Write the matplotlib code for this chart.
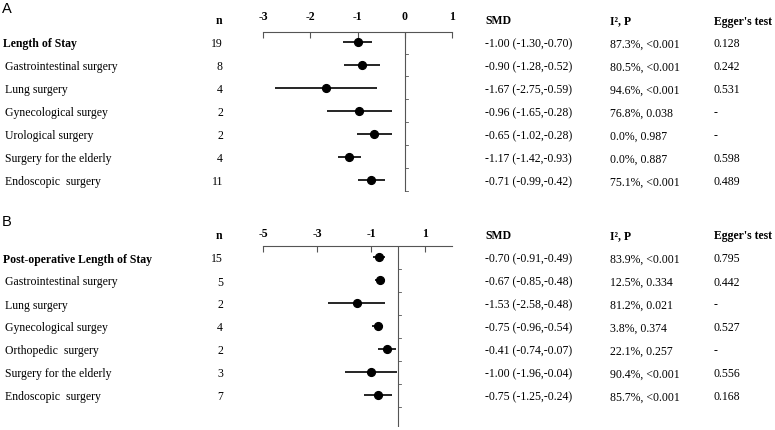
import matplotlib
matplotlib.use("Agg")
import matplotlib.pyplot as plt
from matplotlib import transforms

plt.rcParams['font.family'] = ['Liberation Serif', 'DejaVu Serif']

# panel A data
a_labels = ["Length of Stay", "Gastrointestinal surgery", "Lung surgery", "Gynecological surgey",
            "Urological surgery", "Surgery for the elderly", "Endoscopic  surgery"]
a_n = ["19", "8", "4", "2", "2", "4", "11"]
a_smd = [-1.00, -0.90, -1.67, -0.96, -0.65, -1.17, -0.71]
a_lo = [-1.30, -1.28, -2.75, -1.65, -1.02, -1.42, -0.99]
a_hi = [-0.70, -0.52, -0.59, -0.28, -0.28, -0.93, -0.42]
a_i2 = ["87.3%, <0.001", "80.5%, <0.001", "94.6%, <0.001", "76.8%, 0.038",
        "0.0%, 0.987", "0.0%, 0.887", "75.1%, <0.001"]
a_egger = ["0.128", "0.242", "0.531", "-", "-", "0.598", "0.489"]
a_ticks = [-3, -2, -1, 0, 1]

# panel B data
b_labels = ["Post-operative Length of Stay", "Gastrointestinal surgery", "Lung surgery",
            "Gynecological surgey", "Orthopedic  surgery", "Surgery for the elderly",
            "Endoscopic  surgery"]
b_n = ["15", "5", "2", "4", "2", "3", "7"]
b_smd = [-0.70, -0.67, -1.53, -0.75, -0.41, -1.00, -0.75]
b_lo = [-0.91, -0.85, -2.58, -0.96, -0.74, -1.96, -1.25]
b_hi = [-0.49, -0.48, -0.48, -0.54, -0.07, -0.04, -0.24]
b_i2 = ["83.9%, <0.001", "12.5%, 0.334", "81.2%, 0.021", "3.8%, 0.374",
        "22.1%, 0.257", "90.4%, <0.001", "85.7%, <0.001"]
b_egger = ["0.795", "0.442", "-", "0.527", "-", "0.556", "0.168"]
b_ticks = [-5, -3, -1, 1]

W, H = 775, 431
fig = plt.figure(figsize=(W / 100, H / 100), dpi=100)
FS = 8.5
GREY = "#555555"


def px(x):
    return x / W


def panel(letter, letter_px, head_px, axis_px, bottom_px, row_px, xlim, ticks, pad,
          labels, n, smd, lo, hi, i2, egger):
    nrows = len(labels)
    step = 23.0
    y_top = (axis_px - row_px) / step
    y_bot = (bottom_px - row_px) / step
    ax = fig.add_axes([px(263), 1 - bottom_px / H, px(452 - 263), (bottom_px - axis_px) / H])
    ax.set_xlim(*xlim)
    ax.set_ylim(y_bot, y_top)
    for s in ["right", "bottom", "left"]:
        ax.spines[s].set_visible(False)
    ax.spines["top"].set_linewidth(0.8)
    ax.spines["top"].set_color(GREY)
    ax.xaxis.tick_top()
    ax.set_xticks(ticks)
    ax.set_xticklabels([str(t) for t in ticks], fontsize=FS, fontweight="bold")
    ax.tick_params(axis="x", direction="in", length=4, width=0.8, color=GREY, pad=pad)
    ax.set_yticks([])
    ax.patch.set_visible(False)

    ax.axvline(0, color=GREY, lw=0.8)
    dx = (xlim[1] - xlim[0]) * 0.016
    for i in range(nrows):
        ax.plot([0, dx], [i + 0.5, i + 0.5], color=GREY, lw=0.6)

    ys = list(range(nrows))
    ax.hlines(ys, lo, hi, color="black", lw=1.2)
    ax.plot(smd, ys, "o", color="black", ms=5.6)

    tr = transforms.blended_transform_factory(fig.transFigure, ax.transData)
    for i in range(nrows):
        bold = i == 0
        kw = dict(transform=tr, fontsize=FS, va="center_baseline")
        ax.text(px(3 if bold else 5), i, labels[i], fontweight="bold" if bold else "normal",
                ha="left", **kw)
        ax.text(px(223), i, n[i], ha="right", **kw)
        ax.text(px(485), i, f"{smd[i]:.2f} ({lo[i]:.2f},{hi[i]:.2f})", ha="left", **kw)
        ax.text(px(610), i, i2[i], ha="left", **kw)
        ax.text(px(714), i, egger[i], ha="left", **kw)

    hy = 1 - head_px / H
    hkw = dict(fontsize=FS, fontweight="bold", va="center_baseline")
    fig.text(px(219), hy, "n", ha="center", **hkw)
    fig.text(px(485), hy, "SMD", ha="left", **hkw)
    fig.text(px(610), hy, "I², P", ha="left", **hkw)
    fig.text(px(714), hy, "Egger's test", ha="left", **hkw)
    fig.text(px(2), 1 - letter_px / H, letter, fontsize=10.5, family="Liberation Sans",
             ha="left", va="center")


panel("A", 9, 20, 33, 193, 43, (-3, 1), a_ticks, 7, a_labels, a_n, a_smd, a_lo, a_hi,
      a_i2, a_egger)
panel("B", 222, 235, 247, 428, 258, (-5, 2), b_ticks, 5, b_labels, b_n, b_smd, b_lo, b_hi,
      b_i2, b_egger)

fig.savefig("out.png", dpi=100, facecolor="white")
